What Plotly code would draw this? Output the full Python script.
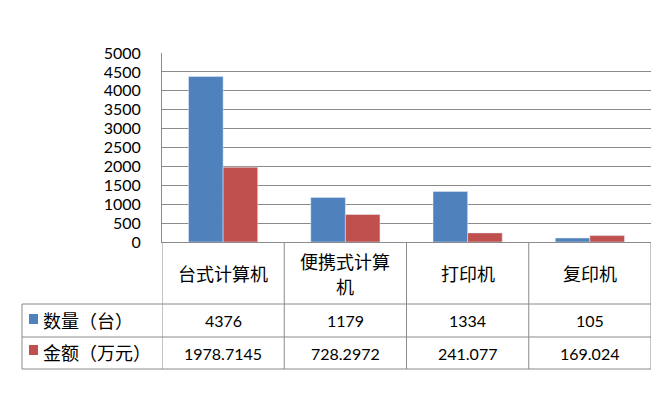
import plotly.graph_objects as go

categories = ["台式计算机", "便携式计算机", "打印机", "复印机"]
category_lines = [["台式计算机"], ["便携式计算", "机"], ["打印机"], ["复印机"]]
series_names = ["数量（台）", "金额（万元）"]
quantity = [4376, 1179, 1334, 105]
amount = [1978.7145, 728.2972, 241.077, 169.024]
y_ticks = [0, 500, 1000, 1500, 2000, 2500, 3000, 3500, 4000, 4500, 5000]

BLUE = "#4F81BD"
RED = "#C0504D"
GRID = "#8A8A8A"
FONT = "Lato, Noto Sans CJK SC, sans-serif"
CJK = "Noto Sans CJK SC, sans-serif"

W, H = 660, 414
L, R, T, B = 162, 651, 53, 242


def py(px):
    return (B - px) / (B - T)


def pxx(px):
    return (px - L) / (R - L)


fig = go.Figure()
fig.add_trace(go.Bar(x=categories, y=quantity, name=series_names[0], marker_color=BLUE))
fig.add_trace(go.Bar(x=categories, y=amount, name=series_names[1], marker_color=RED))

shapes = []
line = dict(color=GRID, width=1)
for ypx in [304, 337, 369]:
    shapes.append(dict(type="line", xref="paper", yref="paper", x0=pxx(22), x1=1,
                       y0=py(ypx), y1=py(ypx), line=line))
shapes.append(dict(type="line", xref="paper", yref="paper", x0=pxx(22), x1=pxx(22),
                   y0=py(304), y1=py(369), line=line))
for i in range(len(categories) + 1):
    shapes.append(dict(type="line", xref="x", yref="paper", x0=i - 0.5, x1=i - 0.5,
                       y0=py(242), y1=py(369), line=line))
for ypx0, col in [(314, BLUE), (345, RED)]:
    shapes.append(dict(type="rect", xref="paper", yref="paper", x0=pxx(29), x1=pxx(38),
                       y0=py(ypx0), y1=py(ypx0 + 10), fillcolor=col, line=dict(width=0)))

annotations = []
for i, lines in enumerate(category_lines):
    n = len(lines)
    for k, txt in enumerate(lines):
        ypx = 273 + (k - (n - 1) / 2) * 25
        annotations.append(dict(x=i, y=py(ypx), xref="x", yref="paper", text=txt,
                                showarrow=False, font=dict(family=CJK, size=18, color="#000"),
                                xanchor="center", yanchor="middle"))
for i in range(len(categories)):
    annotations.append(dict(x=i, y=py(320.5), xref="x", yref="paper", text=str(quantity[i]),
                            showarrow=False, font=dict(family=FONT, size=16, color="#000"),
                            xanchor="center", yanchor="middle"))
    annotations.append(dict(x=i, y=py(353), xref="x", yref="paper", text=str(amount[i]),
                            showarrow=False, font=dict(family=FONT, size=16, color="#000"),
                            xanchor="center", yanchor="middle"))
for name, ypx in zip(series_names, [320, 352]):
    annotations.append(dict(x=pxx(41), y=py(ypx), xref="paper", yref="paper", text=name,
                            showarrow=False, font=dict(family=CJK, size=18, color="#000"),
                            xanchor="left", yanchor="middle"))

fig.update_layout(
    width=W, height=H,
    margin=dict(l=L, r=W - R, t=T, b=H - B, pad=0),
    paper_bgcolor="white", plot_bgcolor="white",
    barmode="group", bargap=0.434, bargroupgap=0,
    showlegend=False,
    font=dict(family=FONT, size=16, color="#000"),
    xaxis=dict(showticklabels=False, showline=True, linecolor=GRID, linewidth=1,
               showgrid=False, ticks="", range=[-0.5, 3.5], fixedrange=True),
    yaxis=dict(range=[0, 5000], tickvals=y_ticks, showgrid=True, gridcolor=GRID, gridwidth=1,
               showline=True, linecolor=GRID, linewidth=1, ticks="", zeroline=False,
               ticklabelstandoff=17, tickfont=dict(family=FONT, size=16, color="#000")),
    shapes=shapes,
    annotations=annotations,
)

fig.write_html("out.html", config={"displayModeBar": False},
               post_script="document.body.style.margin='0';document.body.style.overflow='hidden';")
